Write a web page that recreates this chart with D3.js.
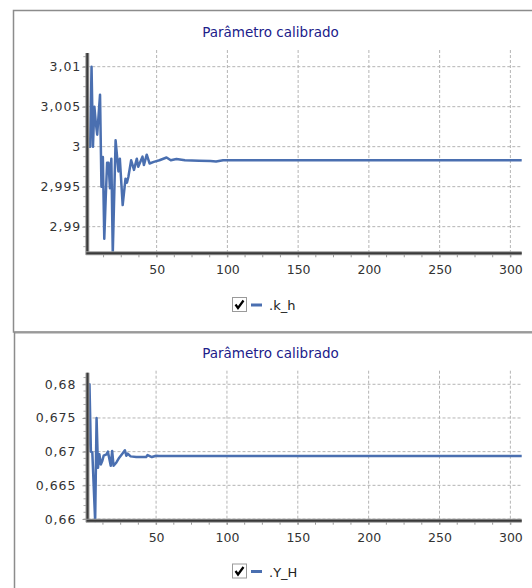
<!DOCTYPE html>
<html>
<head>
<meta charset="utf-8">
<script src="https://cdn.jsdelivr.net/npm/d3@7"></script>
<style>
  body { margin: 0; background: #fff; }
  svg { display: block; font-family: "DejaVu Sans", Verdana, sans-serif; }
</style>
</head>
<body>
<div id="chart"></div>
<script>
// data (iteration -> calibrated value)
const TITLE = "Parâmetro calibrado";

const kIter = [1, 3, 4, 5, 6, 7, 8, 10, 11, 12, 13, 14, 15, 16, 17, 18, 19, 21, 23, 24, 26, 28, 29, 30, 32, 34, 36, 37, 40, 41, 43, 45, 48, 52, 57, 60, 64, 70, 80, 88, 92, 97, 308];
const kVals = [3.0, 3.0, 3.01, 3.0, 3.005, 3.003, 3.0015, 3.0065, 2.995, 2.9987, 2.9885, 2.9935, 2.998, 2.998, 2.9948, 2.9985, 2.9867, 3.0008, 2.9969, 2.9985, 2.9927, 2.996, 2.9955, 2.9962, 2.9983, 2.9971, 2.9985, 2.9975, 2.99875, 2.9977, 2.999, 2.9979, 2.9981, 2.9983, 2.99865, 2.9983, 2.99845, 2.9983, 2.99825, 2.9982, 2.99815, 2.9983, 2.9983];

const yIter = [2, 3, 4, 5, 7, 8, 9, 10, 11, 12, 13, 15, 16, 18, 19, 20, 22, 24, 27, 28, 29, 30, 32, 36, 40, 43, 44, 47, 50, 52, 308];
const yVals = [0.67, 0.68, 0.67, 0.6699, 0.6597, 0.675, 0.6676, 0.6696, 0.6681, 0.6686, 0.6694, 0.6696, 0.67, 0.6679, 0.6701, 0.6679, 0.6684, 0.6691, 0.6699, 0.6702, 0.6694, 0.6697, 0.6693, 0.6692, 0.6692, 0.6692, 0.6695, 0.6692, 0.6694, 0.66935, 0.66935];

const xTicks = [50, 100, 150, 200, 250, 300];
const kTicks = [2.99, 2.995, 3, 3.005, 3.01];
const yTicks = [0.66, 0.665, 0.67, 0.675, 0.68];

const LINE_COLOR = "#4a6fb0";
const ptBR = d3.formatLocale({ decimal: ",", thousands: ".", grouping: [3], currency: ["R$", ""] });
const fmt = ptBR.format("~g");

const svg = d3.select("#chart")
    .append("svg")
    .attr("width", 532)
    .attr("height", 588);

// panel frames
svg.append("rect")
    .attr("x", 13.5).attr("y", 10.5)
    .attr("width", 540).attr("height", 321.5)
    .attr("fill", "none")
    .attr("stroke", "#8c8c8c")
    .attr("stroke-width", 1.5);
svg.append("line")
    .attr("x1", 14.5).attr("x2", 540)
    .attr("y1", 332.5).attr("y2", 332.5)
    .attr("stroke", "#9a9a9a").attr("stroke-width", 2);
svg.append("line")
    .attr("x1", 14.5).attr("x2", 14.5)
    .attr("y1", 332).attr("y2", 600)
    .attr("stroke", "#8c8c8c").attr("stroke-width", 1.5);

function drawPanel(cfg) {
    const g = svg.append("g");

    const X_SCALE = d3.scaleLinear().domain(cfg.xDomain).range([cfg.left, cfg.right]);
    const Y_SCALE = d3.scaleLinear().domain(cfg.yDomain).range([cfg.bottom, cfg.top]);

    // title
    g.append("text")
        .attr("x", 270.5).attr("y", cfg.titleY)
        .attr("text-anchor", "middle")
        .attr("font-size", "13.5px")
        .attr("fill", "#20208a")
        .text(TITLE);

    // grid
    g.selectAll(".vgrid")
        .data(xTicks)
        .enter()
        .append("line")
        .attr("x1", (d) => X_SCALE(d)).attr("x2", (d) => X_SCALE(d))
        .attr("y1", cfg.gridTop).attr("y2", cfg.bottom)
        .attr("stroke", "#b4b4b4")
        .attr("stroke-dasharray", "3,2");
    g.selectAll(".hgrid")
        .data(cfg.yTicks)
        .enter()
        .append("line")
        .attr("x1", cfg.left).attr("x2", cfg.right)
        .attr("y1", (d) => Y_SCALE(d)).attr("y2", (d) => Y_SCALE(d))
        .attr("stroke", "#b4b4b4")
        .attr("stroke-dasharray", "3,2");

    // minor ticks
    const xMinor = d3.range(12.5, cfg.xDomain[1], 12.5).filter((d) => d >= cfg.xDomain[0]);
    g.selectAll(".xminor")
        .data(xMinor)
        .enter()
        .append("line")
        .attr("x1", (d) => X_SCALE(d)).attr("x2", (d) => X_SCALE(d))
        .attr("y1", cfg.bottom).attr("y2", cfg.bottom + 4)
        .attr("stroke", "#999");
    const yMinor = d3.range(Math.ceil(cfg.yDomain[0] / cfg.yMinorStep), Math.floor(cfg.yDomain[1] / cfg.yMinorStep) + 1)
        .map((i) => i * cfg.yMinorStep);
    g.selectAll(".yminor")
        .data(yMinor)
        .enter()
        .append("line")
        .attr("x1", cfg.left - 4).attr("x2", cfg.left)
        .attr("y1", (d) => Y_SCALE(d)).attr("y2", (d) => Y_SCALE(d))
        .attr("stroke", "#aaa");

    // axes
    const xAxis = g.append("g")
        .attr("transform", "translate(0," + cfg.bottom + ")")
        .call(d3.axisBottom(X_SCALE).tickValues(xTicks).tickSize(4).tickPadding(8).tickFormat(fmt));
    const yAxis = g.append("g")
        .attr("transform", "translate(" + cfg.left + ",0)")
        .call(d3.axisLeft(Y_SCALE).tickValues(cfg.yTicks).tickSize(5).tickPadding(cfg.yPad).tickFormat(fmt));
    [xAxis, yAxis].forEach((a) => {
        a.select(".domain").remove();
        a.selectAll(".tick line").attr("stroke", "#999");
        a.selectAll("text")
            .attr("font-family", "DejaVu Sans, Verdana, sans-serif")
            .attr("font-size", "12.5px")
            .attr("fill", "#333");
    });
    yAxis.selectAll("text").attr("letter-spacing", "1px");

    // series
    const pts = cfg.iter.map((d, i) => [d, cfg.vals[i]]);
    g.append("path")
        .datum(pts)
        .attr("fill", "none")
        .attr("stroke", LINE_COLOR)
        .attr("stroke-width", 2.5)
        .attr("stroke-linejoin", "round")
        .attr("d", d3.line().x((d) => X_SCALE(d[0])).y((d) => Y_SCALE(d[1])));

    // thick axis lines
    g.append("line")
        .attr("x1", cfg.left).attr("x2", cfg.left)
        .attr("y1", cfg.top).attr("y2", cfg.bottom + 1.5)
        .attr("stroke", "#9a9a9a").attr("stroke-width", 4);
    g.append("line")
        .attr("x1", cfg.left).attr("x2", cfg.left)
        .attr("y1", cfg.top).attr("y2", cfg.bottom + 1)
        .attr("stroke", "#3a3a3a").attr("stroke-width", 2);
    g.append("line")
        .attr("x1", cfg.left - 1.5).attr("x2", cfg.right)
        .attr("y1", cfg.bottom).attr("y2", cfg.bottom)
        .attr("stroke", "#9a9a9a").attr("stroke-width", 4);
    g.append("line")
        .attr("x1", cfg.left - 1).attr("x2", cfg.right)
        .attr("y1", cfg.bottom).attr("y2", cfg.bottom)
        .attr("stroke", "#3a3a3a").attr("stroke-width", 2);

    // legend
    const lg = g.append("g").attr("transform", "translate(232," + cfg.legendY + ")");
    lg.append("rect")
        .attr("x", 0.5).attr("y", 0.5)
        .attr("width", 14).attr("height", 14)
        .attr("fill", "#fff")
        .attr("stroke", "#9a9a9a");
    lg.append("path")
        .attr("d", "M3.5,7.5 L6,11 L11.5,3.5")
        .attr("fill", "none")
        .attr("stroke", "#000")
        .attr("stroke-width", 2.2);
    lg.append("line")
        .attr("x1", 19).attr("x2", 30)
        .attr("y1", 8).attr("y2", 8)
        .attr("stroke", LINE_COLOR).attr("stroke-width", 3);
    lg.append("text")
        .attr("x", 37).attr("y", 13)
        .attr("font-size", "13px")
        .attr("fill", "#222")
        .text(cfg.label);
}

drawPanel({
    left: 87.3, right: 521.7, top: 53, bottom: 253.3, gridTop: 50,
    xDomain: [1, 308], yDomain: [2.98667, 3.01171],
    yTicks: kTicks, yMinorStep: 0.00125, yPad: 1,
    iter: kIter, vals: kVals,
    titleY: 37, legendY: 297, label: ".k_h"
});

drawPanel({
    left: 87.5, right: 521.7, top: 372.7, bottom: 520.7, gridTop: 370.7,
    xDomain: [1.6, 308], yDomain: [0.65975, 0.68172],
    yTicks: yTicks, yMinorStep: 0.001, yPad: 6,
    iter: yIter, vals: yVals,
    titleY: 357.5, legendY: 563.5, label: ".Y_H"
});
</script>
</body>
</html>
